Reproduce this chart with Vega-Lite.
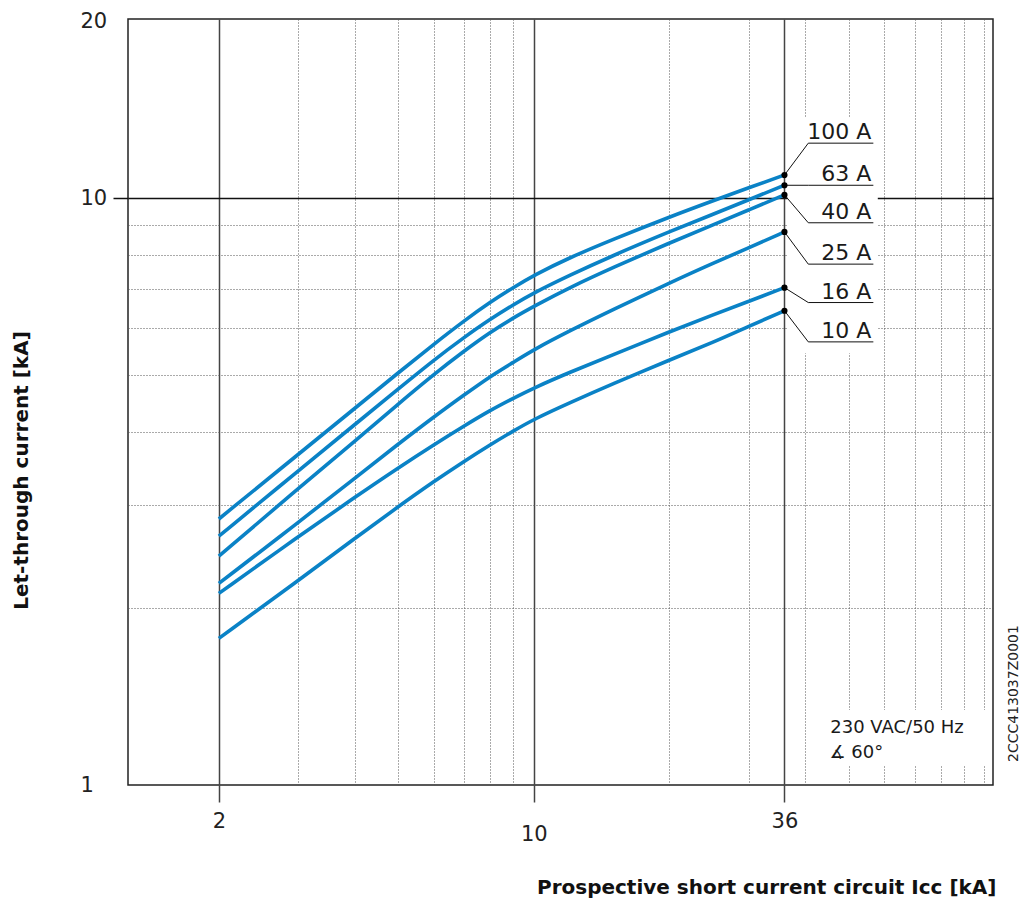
{
  "$schema": "https://vega.github.io/schema/vega-lite/v6.json",
  "width": 865,
  "height": 766,
  "autosize": {"type": "none"},
  "padding": {"left": 128, "top": 19, "right": 30, "bottom": 123},
  "background": "white",
  "config": {"view": {"stroke": "#222", "strokeWidth": 1.5}, "font": "DejaVu Sans"},
  "title": {"text": "2CCC413037Z0001", "orient": "right", "frame": "group", "anchor": "end", "angle": -90, "align": "left", "baseline": "middle", "offset": 4, "dx": 23, "fontSize": 14, "fontWeight": "normal", "font": "DejaVu Sans", "color": "#222"},
  "datasets": {
    "curves": [
      {"rating": "100 A", "Icc": 2, "Ip": 2.84}, {"rating": "100 A", "Icc": 3, "Ip": 3.66}, {"rating": "100 A", "Icc": 4, "Ip": 4.38}, {"rating": "100 A", "Icc": 5, "Ip": 5.04}, {"rating": "100 A", "Icc": 6, "Ip": 5.64}, {"rating": "100 A", "Icc": 7, "Ip": 6.18}, {"rating": "100 A", "Icc": 8, "Ip": 6.65}, {"rating": "100 A", "Icc": 9, "Ip": 7.04}, {"rating": "100 A", "Icc": 10, "Ip": 7.39}, {"rating": "100 A", "Icc": 12, "Ip": 7.92}, {"rating": "100 A", "Icc": 15, "Ip": 8.51}, {"rating": "100 A", "Icc": 20, "Ip": 9.29}, {"rating": "100 A", "Icc": 25, "Ip": 9.90}, {"rating": "100 A", "Icc": 30, "Ip": 10.42}, {"rating": "100 A", "Icc": 36, "Ip": 10.95},
      {"rating": "63 A", "Icc": 2, "Ip": 2.655}, {"rating": "63 A", "Icc": 3, "Ip": 3.43}, {"rating": "63 A", "Icc": 4, "Ip": 4.11}, {"rating": "63 A", "Icc": 5, "Ip": 4.73}, {"rating": "63 A", "Icc": 6, "Ip": 5.30}, {"rating": "63 A", "Icc": 7, "Ip": 5.79}, {"rating": "63 A", "Icc": 8, "Ip": 6.22}, {"rating": "63 A", "Icc": 9, "Ip": 6.58}, {"rating": "63 A", "Icc": 10, "Ip": 6.90}, {"rating": "63 A", "Icc": 12, "Ip": 7.39}, {"rating": "63 A", "Icc": 15, "Ip": 7.99}, {"rating": "63 A", "Icc": 20, "Ip": 8.77}, {"rating": "63 A", "Icc": 25, "Ip": 9.39}, {"rating": "63 A", "Icc": 30, "Ip": 9.94}, {"rating": "63 A", "Icc": 36, "Ip": 10.52},
      {"rating": "40 A", "Icc": 2, "Ip": 2.455}, {"rating": "40 A", "Icc": 3, "Ip": 3.20}, {"rating": "40 A", "Icc": 4, "Ip": 3.85}, {"rating": "40 A", "Icc": 5, "Ip": 4.46}, {"rating": "40 A", "Icc": 6, "Ip": 5.01}, {"rating": "40 A", "Icc": 7, "Ip": 5.49}, {"rating": "40 A", "Icc": 8, "Ip": 5.91}, {"rating": "40 A", "Icc": 9, "Ip": 6.25}, {"rating": "40 A", "Icc": 10, "Ip": 6.54}, {"rating": "40 A", "Icc": 12, "Ip": 7.04}, {"rating": "40 A", "Icc": 15, "Ip": 7.62}, {"rating": "40 A", "Icc": 20, "Ip": 8.39}, {"rating": "40 A", "Icc": 25, "Ip": 9.01}, {"rating": "40 A", "Icc": 30, "Ip": 9.55}, {"rating": "40 A", "Icc": 36, "Ip": 10.13},
      {"rating": "25 A", "Icc": 2, "Ip": 2.206}, {"rating": "25 A", "Icc": 3, "Ip": 2.80}, {"rating": "25 A", "Icc": 4, "Ip": 3.33}, {"rating": "25 A", "Icc": 5, "Ip": 3.81}, {"rating": "25 A", "Icc": 6, "Ip": 4.24}, {"rating": "25 A", "Icc": 7, "Ip": 4.62}, {"rating": "25 A", "Icc": 8, "Ip": 4.97}, {"rating": "25 A", "Icc": 9, "Ip": 5.25}, {"rating": "25 A", "Icc": 10, "Ip": 5.52}, {"rating": "25 A", "Icc": 12, "Ip": 5.94}, {"rating": "25 A", "Icc": 15, "Ip": 6.46}, {"rating": "25 A", "Icc": 20, "Ip": 7.17}, {"rating": "25 A", "Icc": 25, "Ip": 7.75}, {"rating": "25 A", "Icc": 30, "Ip": 8.23}, {"rating": "25 A", "Icc": 36, "Ip": 8.76},
      {"rating": "16 A", "Icc": 2, "Ip": 2.121}, {"rating": "16 A", "Icc": 3, "Ip": 2.65}, {"rating": "16 A", "Icc": 4, "Ip": 3.09}, {"rating": "16 A", "Icc": 5, "Ip": 3.47}, {"rating": "16 A", "Icc": 6, "Ip": 3.80}, {"rating": "16 A", "Icc": 7, "Ip": 4.09}, {"rating": "16 A", "Icc": 8, "Ip": 4.35}, {"rating": "16 A", "Icc": 9, "Ip": 4.56}, {"rating": "16 A", "Icc": 10, "Ip": 4.75}, {"rating": "16 A", "Icc": 12, "Ip": 5.05}, {"rating": "16 A", "Icc": 15, "Ip": 5.41}, {"rating": "16 A", "Icc": 20, "Ip": 5.92}, {"rating": "16 A", "Icc": 25, "Ip": 6.33}, {"rating": "16 A", "Icc": 30, "Ip": 6.67}, {"rating": "16 A", "Icc": 36, "Ip": 7.04},
      {"rating": "10 A", "Icc": 2, "Ip": 1.778}, {"rating": "10 A", "Icc": 3, "Ip": 2.23}, {"rating": "10 A", "Icc": 4, "Ip": 2.63}, {"rating": "10 A", "Icc": 5, "Ip": 2.98}, {"rating": "10 A", "Icc": 6, "Ip": 3.29}, {"rating": "10 A", "Icc": 7, "Ip": 3.56}, {"rating": "10 A", "Icc": 8, "Ip": 3.80}, {"rating": "10 A", "Icc": 9, "Ip": 4.01}, {"rating": "10 A", "Icc": 10, "Ip": 4.20}, {"rating": "10 A", "Icc": 12, "Ip": 4.48}, {"rating": "10 A", "Icc": 15, "Ip": 4.83}, {"rating": "10 A", "Icc": 20, "Ip": 5.30}, {"rating": "10 A", "Icc": 25, "Ip": 5.68}, {"rating": "10 A", "Icc": 30, "Ip": 6.05}, {"rating": "10 A", "Icc": 36, "Ip": 6.43}
    ],
    "leaders": [
      {"rating": "100 A", "seq": 1, "Icc": 36, "Ip": 10.95}, {"rating": "100 A", "seq": 2, "Icc": 40.66, "Ip": 12.41}, {"rating": "100 A", "seq": 3, "Icc": 56.7, "Ip": 12.41},
      {"rating": "63 A", "seq": 1, "Icc": 36, "Ip": 10.52}, {"rating": "63 A", "seq": 2, "Icc": 40.66, "Ip": 10.52}, {"rating": "63 A", "seq": 3, "Icc": 56.7, "Ip": 10.52},
      {"rating": "40 A", "seq": 1, "Icc": 36, "Ip": 10.13}, {"rating": "40 A", "seq": 2, "Icc": 40.66, "Ip": 9.08}, {"rating": "40 A", "seq": 3, "Icc": 56.7, "Ip": 9.08},
      {"rating": "25 A", "seq": 1, "Icc": 36, "Ip": 8.76}, {"rating": "25 A", "seq": 2, "Icc": 40.66, "Ip": 7.72}, {"rating": "25 A", "seq": 3, "Icc": 56.7, "Ip": 7.72},
      {"rating": "16 A", "seq": 1, "Icc": 36, "Ip": 7.04}, {"rating": "16 A", "seq": 2, "Icc": 40.66, "Ip": 6.64}, {"rating": "16 A", "seq": 3, "Icc": 56.7, "Ip": 6.64},
      {"rating": "10 A", "seq": 1, "Icc": 36, "Ip": 6.43}, {"rating": "10 A", "seq": 2, "Icc": 40.66, "Ip": 5.69}, {"rating": "10 A", "seq": 3, "Icc": 56.7, "Ip": 5.69}
    ],
    "labels": [
      {"rating": "100 A", "Icc": 56.7, "Ip": 12.41},
      {"rating": "63 A", "Icc": 56.7, "Ip": 10.52},
      {"rating": "40 A", "Icc": 56.7, "Ip": 9.08},
      {"rating": "25 A", "Icc": 56.7, "Ip": 7.72},
      {"rating": "16 A", "Icc": 56.7, "Ip": 6.64},
      {"rating": "10 A", "Icc": 56.7, "Ip": 5.69}
    ],
    "notes": [
      {"note": "230 VAC/50 Hz", "Icc": 45.5, "Ip": 1.226},
      {"note": "∡ 60°", "Icc": 45.3, "Ip": 1.112}
    ]
  },
  "layer": [
    {
      "data": {"name": "curves"},
      "mark": {"type": "line", "color": "#0a82c6", "strokeWidth": 3.6, "interpolate": "basis", "strokeCap": "butt"},
      "encoding": {
        "x": {
          "field": "Icc", "type": "quantitative",
          "scale": {"type": "log", "domain": [1.257, 104.5], "nice": false},
          "axis": {
            "values": [2, 3, 4, 5, 6, 7, 8, 9, 10, 20, 30, 36, 40, 50, 60, 70, 80, 90, 100],
            "domain": false,
            "grid": true,
            "gridDash": {"condition": {"test": "datum.value==2||datum.value==10||datum.value==36", "value": []}, "value": [1, 2]},
            "gridColor": {"condition": {"test": "datum.value==2||datum.value==10||datum.value==36", "value": "#444"}, "value": "#555"},
            "gridWidth": {"condition": {"test": "datum.value==2||datum.value==10||datum.value==36", "value": 1.5}, "value": 1},
            "gridOpacity": 1,
            "ticks": true,
            "tickSize": 17,
            "tickColor": "#444",
            "tickWidth": 1.5,
            "tickOpacity": {"condition": {"test": "datum.value==2||datum.value==10||datum.value==36", "value": 1}, "value": 0},
            "labelExpr": "datum.value==2||datum.value==10||datum.value==36 ? datum.value + '' : ''",
            "labelFont": "DejaVu Sans",
            "labelFontSize": 21,
            "labelColor": "#222",
            "labelBaseline": "top",
            "labelPadding": {"condition": {"test": "datum.value==10", "value": 21}, "value": 8},
            "labelFlush": false,
            "labelOverlap": false,
            "title": "Prospective short current circuit Icc [kA]",
            "titleFont": "DejaVu Sans",
            "titleFontSize": 20,
            "titleFontWeight": "bold",
            "titleColor": "#111",
            "titleX": 868,
            "titleY": 108,
            "titleAlign": "right",
            "titleBaseline": "alphabetic"
          }
        },
        "y": {
          "field": "Ip", "type": "quantitative",
          "scale": {"type": "log", "domain": [1, 20.2], "nice": false},
          "axis": {
            "values": [1, 2, 3, 4, 5, 6, 7, 8, 9, 10, 20],
            "domain": false,
            "grid": true,
            "gridDash": {"condition": {"test": "datum.value==10", "value": []}, "value": [1, 2]},
            "gridColor": {"condition": {"test": "datum.value==10", "value": "#111"}, "value": "#555"},
            "gridWidth": {"condition": {"test": "datum.value==10", "value": 1.5}, "value": 1},
            "gridOpacity": {"condition": {"test": "datum.value==1||datum.value==20", "value": 0}, "value": 1},
            "ticks": true,
            "tickSize": 15,
            "tickColor": "#111",
            "tickWidth": 1.5,
            "tickOpacity": {"condition": {"test": "datum.value==10", "value": 1}, "value": 0},
            "labelExpr": "datum.value==1||datum.value==10||datum.value==20 ? datum.value + '' : ''",
            "labelFont": "DejaVu Sans",
            "labelFontSize": 21,
            "labelColor": "#222",
            "labelAlign": "left",
            "labelPadding": 33,
            "labelFlush": false,
            "labelOverlap": false,
            "title": "Let-through current [kA]",
            "titleFont": "DejaVu Sans",
            "titleFontSize": 20,
            "titleFontWeight": "bold",
            "titleColor": "#111",
            "titleAngle": -90,
            "titleX": -101,
            "titleY": 451,
            "titleAlign": "center",
            "titleBaseline": "alphabetic"
          }
        },
        "detail": {"field": "rating", "type": "nominal"}
      }
    },
    {
      "data": {"values": [{}]},
      "mark": {"type": "rect", "color": "white", "opacity": 1},
      "encoding": {
        "x": {"datum": 36.6, "type": "quantitative"},
        "x2": {"datum": 58.0},
        "y": {"datum": 5.44, "type": "quantitative"},
        "y2": {"datum": 13.7}
      }
    },
    {
      "data": {"values": [{}]},
      "mark": {"type": "rect", "color": "white", "opacity": 1},
      "encoding": {
        "x": {"datum": 42.1, "type": "quantitative"},
        "x2": {"datum": 103},
        "y": {"datum": 1.082, "type": "quantitative"},
        "y2": {"datum": 1.342}
      }
    },
    {
      "data": {"name": "leaders"},
      "mark": {"type": "line", "color": "#111", "strokeWidth": 1},
      "encoding": {
        "x": {"field": "Icc", "type": "quantitative"},
        "y": {"field": "Ip", "type": "quantitative"},
        "detail": {"field": "rating", "type": "nominal"},
        "order": {"field": "seq", "type": "quantitative"}
      }
    },
    {
      "data": {"name": "curves"},
      "transform": [{"filter": "datum.Icc == 36"}],
      "mark": {"type": "circle", "color": "#000", "size": 38, "opacity": 1},
      "encoding": {
        "x": {"field": "Icc", "type": "quantitative"},
        "y": {"field": "Ip", "type": "quantitative"}
      }
    },
    {
      "data": {"name": "labels"},
      "mark": {"type": "text", "align": "right", "baseline": "alphabetic", "dx": -2, "dy": -4, "fontSize": 22, "color": "#1a1a1a", "font": "DejaVu Sans"},
      "encoding": {
        "x": {"field": "Icc", "type": "quantitative"},
        "y": {"field": "Ip", "type": "quantitative"},
        "text": {"field": "rating", "type": "nominal"}
      }
    },
    {
      "data": {"name": "notes"},
      "mark": {"type": "text", "align": "left", "baseline": "alphabetic", "fontSize": 18, "color": "#1a1a1a", "font": "DejaVu Sans"},
      "encoding": {
        "x": {"field": "Icc", "type": "quantitative"},
        "y": {"field": "Ip", "type": "quantitative"},
        "text": {"field": "note", "type": "nominal"}
      }
    }
  ]
}
